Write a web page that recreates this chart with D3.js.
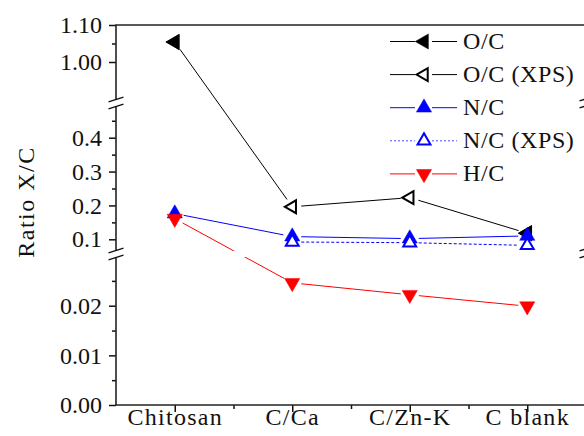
<!DOCTYPE html>
<html>
<head>
<meta charset="utf-8">
<script src="https://cdn.jsdelivr.net/npm/d3@7"></script>
<style>
  html, body { margin: 0; padding: 0; background: #fff; }
  svg { display: block; }
  text { font-family: "Liberation Serif", "Times New Roman", serif; fill: #111; }
</style>
</head>
<body>
<svg id="chart" width="584" height="436"></svg>
<script>
// categories and ratios
const categories = ["Chitosan", "C/Ca", "C/Zn-K", "C blank"];
const ocRatio  = [1.054, null, null, 0.118];
const ocXps    = [1.054, 0.196, 0.223, 0.118];
const ncRatio  = [0.176, 0.108, 0.102, 0.110];
const ncXps    = [null, 0.092, 0.090, 0.082];
const hcRatio  = [0.161, 0.0246, 0.0222, 0.0199];

const topTicks = [1.0, 1.1], topMinor = [1.05];
const midTicks = [0.1, 0.2, 0.3, 0.4], midMinor = [0.15, 0.25, 0.35, 0.45];
const lowTicks = [0, 0.01, 0.02], lowMinor = [0.005, 0.015, 0.025];

const svg = d3.select("#chart");
const plotLeft = 116, plotRight = 587, plotTop = 25, plotBottom = 405;

const x = d3.scaleLinear().domain([-0.5, 3.5]).range([plotLeft, plotRight - 1]);
// broken y axis: three linear pieces
const yTop = d3.scaleLinear().domain([1.0, 1.1]).range([62, 25]);
const yMid = d3.scaleLinear().domain([0.1, 0.4]).range([239.3, 137.7]);
const yLow = d3.scaleLinear().domain([0, 0.02]).range([405, 305.7]);
const y = v => v >= 0.7 ? yTop(v) : (v >= 0.045 ? yMid(v) : yLow(v));

// clip for the gap of the lower break
const defs = svg.append("defs");
const clip = defs.append("clipPath").attr("id", "gapClip");
clip.append("rect").attr("x", 0).attr("y", 0).attr("width", 584).attr("height", 251);
clip.append("rect").attr("x", 0).attr("y", 257).attr("width", 584).attr("height", 200);

// axes
function yAxis(scale, ticks, minor, fmt) {
  const g = svg.append("g").attr("transform", `translate(${plotLeft},0)`);
  g.call(d3.axisLeft(scale).tickValues(ticks).tickSize(7).tickPadding(7).tickFormat(d3.format(fmt)));
  g.select(".domain").remove();
  g.selectAll("line").attr("stroke", "#111").attr("stroke-width", 1.5);
  g.selectAll("text").attr("font-size", 24).attr("font-family", "Liberation Serif").attr("fill", "#111");
  const m = svg.append("g").attr("transform", `translate(${plotLeft},0)`);
  m.call(d3.axisLeft(scale).tickValues(minor).tickSize(4).tickFormat(""));
  m.select(".domain").remove();
  m.selectAll("line").attr("stroke", "#111").attr("stroke-width", 1.5);
}
yAxis(yTop, topTicks, topMinor, ".2f");
yAxis(yMid, midTicks, midMinor, ".1f");
yAxis(yLow, lowTicks, lowMinor, ".2f");

const xg = svg.append("g").attr("transform", `translate(0,${plotBottom})`);
xg.call(d3.axisBottom(x).tickValues([0, 1, 2, 3]).tickSize(7).tickPadding(3).tickFormat(i => categories[i]));
xg.select(".domain").remove();
xg.selectAll("line").attr("stroke", "#111").attr("stroke-width", 1.5);
xg.selectAll("text").attr("font-size", 24).attr("letter-spacing", 1.3).attr("fill", "#111")
  .attr("y", 20).attr("dy", 0);
const xm = svg.append("g").attr("transform", `translate(0,${plotBottom})`);
xm.call(d3.axisBottom(x).tickValues([0.5, 1.5, 2.5]).tickSize(4).tickFormat(""));
xm.select(".domain").remove();
xm.selectAll("line").attr("stroke", "#111").attr("stroke-width", 1.5);

// frame
const frame = svg.append("g").attr("stroke", "#222").attr("stroke-width", 1.6).attr("fill", "none");
frame.append("line").attr("x1", plotLeft).attr("x2", plotLeft).attr("y1", plotTop).attr("y2", plotBottom);
frame.append("line").attr("x1", plotRight).attr("x2", plotRight).attr("y1", plotTop).attr("y2", plotBottom);
frame.append("line").attr("x1", plotLeft - 0.8).attr("x2", 584).attr("y1", plotTop).attr("y2", plotTop);
frame.append("line").attr("x1", plotLeft - 0.8).attr("x2", 584).attr("y1", plotBottom).attr("y2", plotBottom);

// break marks
function breakMark(cx, cy) {
  const g = svg.append("g");
  const dx = 7.5, dy = 2.3, h = 3.5;
  g.append("path")
    .attr("d", `M${cx - dx},${cy - h + dy}L${cx + dx},${cy - h - dy}L${cx + dx},${cy + h - dy}L${cx - dx},${cy + h + dy}Z`)
    .attr("fill", "#fff");
  [-h, h].forEach(o => {
    g.append("line")
      .attr("x1", cx - dx).attr("y1", cy + o + dy)
      .attr("x2", cx + dx).attr("y2", cy + o - dy)
      .attr("stroke", "#111").attr("stroke-width", 1.4);
  });
}
breakMark(plotLeft, 103);
breakMark(plotLeft, 254);
breakMark(plotRight, 102);
breakMark(plotRight, 252);

// series
const series = [
  { name: "O/C (XPS)", values: ocXps, color: "#000", dash: null, sym: "left", filled: false, line: true },
  { name: "O/C", values: ocRatio, color: "#000", dash: null, sym: "left", filled: true, line: false },
  { name: "N/C", values: ncRatio, color: "#0000ff", dash: null, sym: "up", filled: true, line: true },
  { name: "N/C (XPS)", values: ncXps, color: "#0000ff", dash: "3,2", sym: "up", filled: false, line: true },
  { name: "H/C", values: hcRatio, color: "#ff0000", dash: null, sym: "down", filled: true, line: true }
];
const rot = { left: -90, up: 0, down: 180 };
const sym = d3.symbol().type(d3.symbolTriangle);
const lineGen = d3.line();
const gap = 9;

function drawMarker(g, px, py, s) {
  g.append("path")
    .attr("d", sym.size(s.filled ? 100 : 72)())
    .attr("transform", `translate(${px},${py}) rotate(${rot[s.sym]})`)
    .attr("fill", s.filled ? s.color : "#fff")
    .attr("stroke", s.color)
    .attr("stroke-width", s.filled ? 0.5 : 2);
}

const plot = svg.append("g");
series.forEach(s => {
  const pts = s.values.map((v, i) => v == null ? null : [x(i), y(v)]);
  if (s.line) {
    const lg = plot.append("g").attr("clip-path", "url(#gapClip)");
    for (let i = 0; i < pts.length - 1; i++) {
      const a = pts[i], b = pts[i + 1];
      if (!a || !b) continue;
      const len = Math.hypot(b[0] - a[0], b[1] - a[1]);
      const ux = (b[0] - a[0]) / len, uy = (b[1] - a[1]) / len;
      lg.append("path")
        .attr("d", lineGen([[a[0] + ux * gap, a[1] + uy * gap], [b[0] - ux * gap, b[1] - uy * gap]]))
        .attr("fill", "none")
        .attr("stroke", s.color)
        .attr("stroke-width", 1)
        .attr("stroke-dasharray", s.dash);
    }
  }
  const mg = plot.append("g");
  pts.forEach(p => { if (p) drawMarker(mg, p[0], p[1], s); });
});

// legend
const legendOrder = ["O/C", "O/C (XPS)", "N/C", "N/C (XPS)", "H/C"];
const legend = svg.append("g");
legendOrder.forEach((name, i) => {
  const s = series.find(d => d.name === name);
  const ly = 41.5 + i * 33.1;
  const g = legend.append("g");
  [[390, 415], [432, 457]].forEach(seg => {
    g.append("line").attr("x1", seg[0]).attr("x2", seg[1]).attr("y1", ly).attr("y2", ly)
      .attr("stroke", s.color).attr("stroke-width", 1)
      .attr("stroke-dasharray", s.dash ? "2,2" : null)
      .attr("stroke-opacity", s.dash ? 0.7 : 1);
  });
  drawMarker(g, 424, ly, s);
  g.append("text").attr("x", 463).attr("y", ly + 7.5)
    .attr("font-size", 24).attr("letter-spacing", 0.6).text(name);
});

// axis title
svg.append("text")
  .attr("transform", "translate(34,202) rotate(-90)")
  .attr("text-anchor", "middle")
  .attr("font-size", 24)
  .attr("letter-spacing", 1.5)
  .text("Ratio X/C");
</script>
</body>
</html>
